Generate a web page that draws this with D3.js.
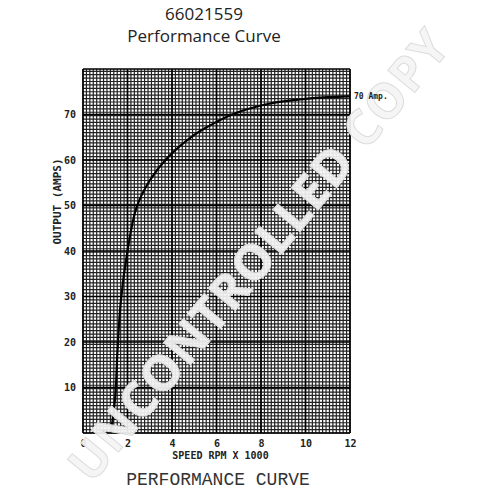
<!DOCTYPE html>
<html>
<head>
<meta charset="utf-8">
<script src="https://cdn.jsdelivr.net/npm/d3@7"></script>
<style>
  body { margin: 0; background: #fff; }
  svg { display: block; }
</style>
</head>
<body>
<div id="chart"></div>
<script>
// curve: speed in rpm x 1000, output in amps
var speedKrpm = [1.25, 1.45, 1.55, 1.7, 2.0, 2.4, 3.0, 3.8, 5.0, 5.6, 6.7, 8.3, 9.75, 11, 12];
var outputAmps = [0, 8, 18, 29, 40, 49.5, 55.5, 60.5, 65.5, 67.3, 70, 72.3, 73.3, 73.8, 74];
var xTicks = [0, 2, 4, 6, 8, 10, 12];
var yTicks = [10, 20, 30, 40, 50, 60, 70];

var gSettings = {
    width : 500,
    height : 500,
    margin : { top : 69, right : 150, bottom : 67, left : 83 },
    xMinorPerUnit : 6.5,
    yMinorStep : 0.75
};

function drawChart(){
    var m = gSettings.margin,
        w = gSettings.width - m.left - m.right,
        h = gSettings.height - m.top - m.bottom;

    var svg = d3.select("#chart").append("svg")
        .attr("width", gSettings.width)
        .attr("height", gSettings.height);

    // titles
    svg.append("text").attr("x", 204).attr("y", 20)
        .attr("text-anchor", "middle")
        .style("font-family", "'Open Sans', sans-serif").style("font-size", "17px").style("fill", "#222")
        .text("66021559");
    svg.append("text").attr("x", 204).attr("y", 42)
        .attr("text-anchor", "middle")
        .style("font-family", "'Open Sans', sans-serif").style("font-size", "17px").style("fill", "#222")
        .text("Performance Curve");

    var g = svg.append("g").attr("transform", "translate(" + m.left + "," + m.top + ")");

    var x = d3.scaleLinear().domain([0, 12]).range([0, w]);
    var y = d3.scaleLinear().domain([0, 80]).range([h, 0]);

    // dense graph-paper grid
    var xMinor = d3.range(0, 12 + 1e-6, 1 / gSettings.xMinorPerUnit);
    var yMinor = d3.range(0, 80 + 1e-6, gSettings.yMinorStep);

    g.append("g").selectAll("line").data(xMinor).enter().append("line")
        .attr("x1", function(d){ return x(d); }).attr("x2", function(d){ return x(d); })
        .attr("y1", 0).attr("y2", h)
        .attr("stroke", "#222").attr("stroke-width", 1.2);
    g.append("g").selectAll("line").data(yMinor).enter().append("line")
        .attr("y1", function(d){ return y(d); }).attr("y2", function(d){ return y(d); })
        .attr("x1", 0).attr("x2", w)
        .attr("stroke", "#222").attr("stroke-width", 1.2);

    // slightly heavier lines every 2 krpm and 10 amps
    g.append("g").selectAll("line").data(xTicks).enter().append("line")
        .attr("x1", function(d){ return x(d); }).attr("x2", function(d){ return x(d); })
        .attr("y1", 0).attr("y2", h)
        .attr("stroke", "#000").attr("stroke-width", 1.6);
    g.append("g").selectAll("line").data([0].concat(yTicks, [80])).enter().append("line")
        .attr("y1", function(d){ return y(d); }).attr("y2", function(d){ return y(d); })
        .attr("x1", 0).attr("x2", w)
        .attr("stroke", "#000").attr("stroke-width", 1.6);

    // axes (labels only)
    var xAxis = g.append("g").attr("transform", "translate(0," + h + ")")
        .call(d3.axisBottom(x).tickValues(xTicks).tickSize(0).tickPadding(7).tickFormat(d3.format("d")));
    var yAxis = g.append("g")
        .call(d3.axisLeft(y).tickValues(yTicks).tickSize(0).tickPadding(7).tickFormat(d3.format("d")));
    [xAxis, yAxis].forEach(function(a){
        a.select(".domain").remove();
        a.selectAll("text")
            .style("font-family", "'DejaVu Sans Mono', monospace")
            .style("font-weight", "bold").style("font-size", "10px").style("fill", "#222");
    });

    // performance curve
    var line = d3.line()
        .x(function(d){ return x(d[0]); })
        .y(function(d){ return y(d[1]); })
        .curve(d3.curveCatmullRom.alpha(0.5));
    var pts = speedKrpm.map(function(s, i){ return [s, outputAmps[i]]; });
    g.append("path").datum(pts)
        .attr("d", line)
        .attr("fill", "none").attr("stroke", "#000").attr("stroke-width", 2.2);

    // watermark
    svg.append("text")
        .attr("transform", "translate(272,266) rotate(-50.5)")
        .attr("text-anchor", "middle")
        .style("font-family", "'Open Sans', sans-serif").style("font-weight", "bold")
        .style("font-size", "49px").style("letter-spacing", "1px")
        .style("fill", "#f4f4f4").style("fill-opacity", 0.93)
        .style("stroke", "#dcdcdc").style("stroke-width", 1)
        .text("UNCONTROLLED COPY");

    // curve end label sits above the watermark
    svg.append("text").attr("x", m.left + w + 4).attr("y", m.top + y(outputAmps[outputAmps.length - 1]) + 3)
        .style("font-family", "'DejaVu Sans Mono', monospace").style("font-size", "8px")
        .style("font-weight", "bold").style("fill", "#222")
        .text("70 Amp.");

    // axis titles
    g.append("text").attr("x", w / 2 + 4).attr("y", h + 26)
        .attr("text-anchor", "middle")
        .style("font-family", "'DejaVu Sans Mono', monospace").style("font-weight", "bold")
        .style("font-size", "10px").style("fill", "#222")
        .text("SPEED RPM X 1000");
    g.append("text")
        .attr("transform", "translate(-22," + (y(50) - 4) + ") rotate(-90)")
        .attr("text-anchor", "middle")
        .style("font-family", "'DejaVu Sans Mono', monospace").style("font-weight", "bold")
        .style("font-size", "11px").style("fill", "#222")
        .text("OUTPUT (AMPS)");

    svg.append("text").attr("x", 218).attr("y", 485)
        .attr("text-anchor", "middle")
        .style("font-family", "'Liberation Mono', monospace")
        .style("font-size", "18px").style("fill", "#333")
        .text("PERFORMANCE CURVE");
}

drawChart();
</script>
</body>
</html>
